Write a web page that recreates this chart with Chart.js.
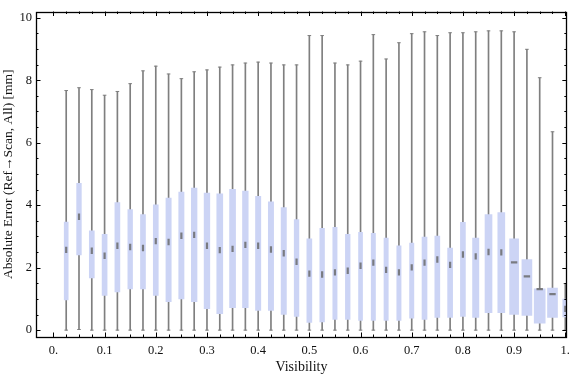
<!DOCTYPE html>
<html>
<head>
<meta charset="utf-8">
<script src="https://cdn.jsdelivr.net/npm/chart.js@4.4.1/dist/chart.umd.min.js"></script>
<style>
  html, body { margin: 0; padding: 0; background: #fff; }
</style>
</head>
<body>
<canvas id="chart" width="576" height="377"></canvas>
<script>
// box positions on the visibility axis
var visibility = [0.025, 0.05, 0.075, 0.1, 0.125, 0.15, 0.175, 0.2, 0.225, 0.25,
  0.275, 0.3, 0.325, 0.35, 0.375, 0.4, 0.425, 0.45, 0.475, 0.5,
  0.525, 0.55, 0.575, 0.6, 0.625, 0.65, 0.675, 0.7, 0.725, 0.75,
  0.775, 0.8, 0.825, 0.85, 0.875, 0.9, 0.925, 0.95, 0.975, 1.0];
// whisker ends
var minErr = [0, 0.02, 0, 0, 0, 0, 0, 0, 0, 0,
  0, 0, 0, 0, 0, 0, 0, 0, 0, 0,
  0, 0, 0, 0, 0, 0, 0, 0, 0, 0,
  0, 0, 0, 0, 0, 0, 0, 0, 0, 0];
var maxErr = [7.67, 7.76, 7.70, 7.52, 7.64, 7.89, 8.30, 8.45, 8.20, 8.05,
  8.27, 8.33, 8.42, 8.49, 8.55, 8.58, 8.55, 8.49, 8.49, 9.43,
  9.43, 8.55, 8.49, 8.61, 9.46, 8.68, 9.20, 9.49, 9.55, 9.43,
  9.52, 9.52, 9.55, 9.58, 9.58, 9.55, 8.99, 8.08, 6.35, 1.49];
// quartiles and median
var q1 = [0.97, 2.41, 1.67, 1.11, 1.22, 1.32, 1.32, 1.11, 0.91, 1.00,
  0.91, 0.69, 0.53, 0.72, 0.72, 0.63, 0.63, 0.50, 0.44, 0.25,
  0.26, 0.34, 0.34, 0.31, 0.31, 0.31, 0.31, 0.38, 0.34, 0.41,
  0.41, 0.44, 0.41, 0.56, 0.56, 0.50, 0.47, 0.22, 0.41, 0.42];
var q3 = [3.46, 4.70, 3.18, 3.07, 4.08, 3.86, 3.70, 4.01, 4.23, 4.42,
  4.55, 4.39, 4.36, 4.51, 4.45, 4.28, 4.11, 3.92, 3.54, 2.92,
  3.26, 3.29, 3.07, 3.13, 3.10, 2.95, 2.70, 2.79, 2.98, 3.01,
  2.63, 3.45, 2.95, 3.70, 3.76, 2.92, 2.26, 1.32, 1.35, 0.99];
var median = [2.57, 3.63, 2.54, 2.38, 2.70, 2.66, 2.63, 2.85, 2.82, 3.02,
  3.05, 2.70, 2.56, 2.60, 2.73, 2.70, 2.58, 2.46, 2.19, 1.81,
  1.78, 1.85, 1.90, 2.06, 2.16, 1.93, 1.85, 2.01, 2.16, 2.26,
  2.09, 2.42, 2.36, 2.50, 2.49, 2.17, 1.72, 1.31, 1.15, 0.68];

// labelled ticks
var xMajor = [0, 0.1, 0.2, 0.3, 0.4, 0.5, 0.6, 0.7, 0.8, 0.9, 1.0];
var xLabels = ['0.', '0.1', '0.2', '0.3', '0.4', '0.5', '0.6', '0.7', '0.8', '0.9', '1.'];
var yMajor = [0, 2, 4, 6, 8, 10];
var yLabels = ['0', '2', '4', '6', '8', '10'];

// box widths in pixels (they vary in the original)
var boxWidths = [4, 4.7, 5, 5, 5, 4.7, 5, 5, 5.3, 5.3,
  5.7, 5.7, 6, 6, 5.7, 5.3, 5.3, 5.3, 4.7, 5,
  4.7, 4.3, 4.7, 4, 4.3, 4.3, 4.3, 4.3, 5, 5,
  5, 5, 6.3, 7, 7, 9, 10, 11, 10, 5];

var boxColor = '#ccd4f5';
var whiskerColor = '#7f7f7f';
var serif = "'Liberation Serif', 'DejaVu Serif', serif";

// minor ticks: 4 per major step, like the original frame
function buildTicks(major, subdiv) {
  var out = [];
  for (var i = 0; i < major.length - 1; i++) {
    var step = (major[i + 1] - major[i]) / subdiv;
    for (var j = 0; j < subdiv; j++) {
      out.push({ value: major[i] + j * step, major: j === 0 });
    }
  }
  out.push({ value: major[major.length - 1], major: true });
  return out;
}
function labelFor(major, labels, v) {
  for (var i = 0; i < major.length; i++) {
    if (Math.abs(major[i] - v) < 1e-6) return labels[i];
  }
  return '';
}

var datasets = [];

// median marks
datasets.push({
  type: 'scatter',
  order: 0,
  data: visibility.map(function (v, i) { return { x: v, y: median[i] }; }),
  pointStyle: 'line',
  pointRadius: 3.2,
  rotation: function (ctx) { return boxWidths[ctx.dataIndex] >= 9 ? 0 : 90; },
  borderWidth: 2.2,
  borderColor: 'rgba(100,100,100,0.8)',
  backgroundColor: 'rgba(100,100,100,0.8)'
});

// whisker caps
datasets.push({
  type: 'scatter',
  order: 1,
  data: visibility.map(function (v, i) { return { x: v, y: maxErr[i] }; })
    .concat(visibility.map(function (v, i) { return { x: v, y: minErr[i] }; })),
  pointStyle: 'line',
  pointRadius: 1.8,
  borderWidth: 1,
  borderColor: whiskerColor
});

// one floating bar per box so each can have its own width
visibility.forEach(function (v, i) {
  datasets.push({
    type: 'bar',
    order: 2,
    grouped: false,
    barThickness: boxWidths[i],
    backgroundColor: boxColor,
    borderWidth: 0,
    data: [{ x: v, y: [q1[i], q3[i]] }]
  });
});

// whisker lines
datasets.push({
  type: 'bar',
  order: 3,
  grouped: false,
  barThickness: 1,
  backgroundColor: whiskerColor,
  borderWidth: 0,
  data: visibility.map(function (v, i) { return { x: v, y: [minErr[i], maxErr[i]] }; })
});

// Mathematica style frame with inward ticks on all four sides
var frameTicks = {
  id: 'frameTicks',
  afterDraw: function (chart) {
    var c = chart.ctx, a = chart.chartArea;
    var xs = chart.scales.x, ys = chart.scales.y;
    c.save();
    c.strokeStyle = '#000';
    c.lineWidth = 1;
    c.beginPath();
    xs.ticks.forEach(function (t) {
      var px = Math.round(xs.getPixelForValue(t.value)) + 0.5;
      var len = t.major ? 4.5 : 2.5;
      c.moveTo(px, a.bottom); c.lineTo(px, a.bottom - len);
      c.moveTo(px, a.top); c.lineTo(px, a.top + len);
    });
    ys.ticks.forEach(function (t) {
      var py = Math.round(ys.getPixelForValue(t.value)) + 0.5;
      var len = t.major ? 4.5 : 2.5;
      c.moveTo(a.left, py); c.lineTo(a.left + len, py);
      c.moveTo(a.right, py); c.lineTo(a.right - len, py);
    });
    c.stroke();
    c.lineWidth = 1.3;
    c.strokeRect(Math.round(a.left) + 0.5, Math.round(a.top) + 0.5,
      Math.round(a.right - a.left) - 1, Math.round(a.bottom - a.top) - 1);
    c.restore();
  }
};

var ctx = document.getElementById('chart').getContext('2d');
var chart = new Chart(ctx, {
  type: 'bar',
  data: { datasets: datasets },
  options: {
    responsive: false,
    animation: false,
    layout: { padding: { top: 4, right: 3, left: 0, bottom: 0 } },
    plugins: { legend: { display: false }, tooltip: { enabled: false } },
    scales: {
      x: {
        type: 'linear',
        offset: false,
        min: -0.034,
        max: 1.003,
        grid: { display: false, drawTicks: false, offset: false },
        border: { display: false },
        afterFit: function (s) { s.height = 40; },
        afterBuildTicks: function (s) { s.ticks = buildTicks(xMajor, 4); },
        ticks: {
          autoSkip: false,
          maxRotation: 0,
          padding: 6,
          color: '#111',
          font: { family: serif, size: 12.5 },
          callback: function (v) { return labelFor(xMajor, xLabels, v); }
        },
        title: {
          display: true,
          text: 'Visibility',
          color: '#111',
          font: { family: serif, size: 14 },
          padding: { top: 0, bottom: 1 }
        }
      },
      y: {
        min: -0.22,
        max: 10.2,
        grid: { display: false, drawTicks: false },
        border: { display: false },
        afterFit: function (s) { s.width = 36; },
        afterBuildTicks: function (s) { s.ticks = buildTicks(yMajor, 4); },
        ticks: {
          autoSkip: false,
          padding: 4,
          color: '#111',
          font: { family: serif, size: 12.5 },
          callback: function (v) { return labelFor(yMajor, yLabels, v); }
        },
        title: {
          display: true,
          text: 'Absolute Error (Ref\u2192Scan, All) [mm]',
          color: '#111',
          font: { family: serif, size: 13.5 },
          padding: { top: 0, bottom: 0 }
        }
      }
    }
  },
  plugins: [frameTicks]
});
</script>
</body>
</html>
